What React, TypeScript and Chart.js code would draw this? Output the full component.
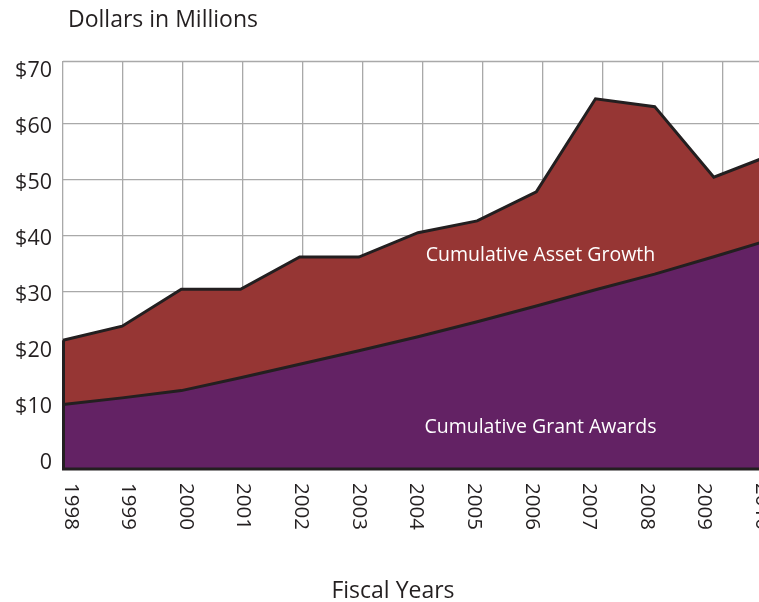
import { useEffect, useRef } from 'react';
import { Chart, registerables } from 'chart.js';

Chart.register(...registerables);

// ---- Data ----
const fiscalYears = ['1998', '1999', '2000', '2001', '2002', '2003', '2004', '2005', '2006', '2007', '2008', '2009', '2010'];
const cumulativeGrantAwards = [9.9, 11.1, 12.4, 14.7, 17.1, 19.5, 22.0, 24.7, 27.5, 30.4, 33.2, 36.3, 39.5];
const cumulativeTotal = [21.4, 23.9, 30.5, 30.5, 36.25, 36.25, 40.6, 42.7, 47.9, 64.5, 63.1, 50.5, 54.6];
const yTickValues = [0, 10, 20, 30, 40, 50, 60, 70];
const yTickLabels = ['0', '$10', '$20', '$30', '$40', '$50', '$60', '$70'];
const areaLabels = ['Cumulative Asset Growth', 'Cumulative Grant Awards'];
const areaLabelX = [8.07, 8.07];
const areaLabelY = [36.6, 5.9];
const yTitle = 'Dollars in Millions';
const xTitle = 'Fiscal Years';

const FONT = '"Open Sans", "Noto Sans", sans-serif';
const INK = '#231f20';
const RED = '#963634';
const PURPLE = '#632264';
const GRID = '#a9a9a9';

const overlayPlugin = {
  id: 'overlay',
  beforeDatasetsDraw(chart: any) {
    const { ctx, chartArea } = chart;
    ctx.save();
    ctx.strokeStyle = GRID;
    ctx.lineWidth = 1.3;
    ctx.beginPath();
    ctx.moveTo(chartArea.left, chartArea.top + 0.5);
    ctx.lineTo(chartArea.right, chartArea.top + 0.5);
    ctx.stroke();
    ctx.restore();
  },
  afterDatasetsDraw(chart: any) {
    const { ctx, chartArea, scales } = chart;
    const xs = scales.x;
    const ys = scales.y;
    const xl = scales.xl;
    ctx.save();
    // outline of filled region: left edge and baseline
    ctx.strokeStyle = INK;
    ctx.lineWidth = 3;
    ctx.lineJoin = 'miter';
    ctx.beginPath();
    ctx.moveTo(xs.getPixelForValue(0) + 0.5, ys.getPixelForValue(cumulativeTotal[0]));
    ctx.lineTo(xs.getPixelForValue(0) + 0.5, chartArea.bottom);
    ctx.lineTo(chartArea.right + 5, chartArea.bottom);
    ctx.stroke();

    // area labels
    ctx.fillStyle = '#ffffff';
    ctx.font = `19.5px ${FONT}`;
    ctx.textAlign = 'center';
    ctx.textBaseline = 'middle';
    areaLabels.forEach((t, i) => {
      ctx.fillText(t, xs.getPixelForValue(areaLabelX[i]), ys.getPixelForValue(areaLabelY[i]));
    });

    // x labels rotated clockwise
    ctx.fillStyle = INK;
    ctx.font = `20.5px ${FONT}`;
    ctx.textAlign = 'left';
    ctx.textBaseline = 'alphabetic';
    fiscalYears.forEach((t, i) => {
      const cx = xl.getPixelForValue(i);
      ctx.save();
      ctx.translate(cx, chartArea.bottom + 14);
      ctx.rotate(Math.PI / 2);
      ctx.fillText(t, 0, 7.3);
      ctx.restore();
    });

    // titles
    ctx.font = `23px ${FONT}`;
    ctx.textAlign = 'left';
    ctx.fillText(yTitle, 68, 27);
    ctx.textAlign = 'center';
    ctx.fillText(xTitle, 393, 598);
    ctx.restore();
  },
};

export default function App() {
  const canvasRef = useRef<HTMLCanvasElement | null>(null);

  useEffect(() => {
    const canvas = canvasRef.current;
    if (!canvas) return;
    const chart = new Chart(canvas, {
      type: 'line',
      data: {
        labels: fiscalYears,
        datasets: [
          {
            label: 'Cumulative Grant Awards',
            data: cumulativeGrantAwards,
            borderColor: INK,
            borderWidth: 3,
            backgroundColor: PURPLE,
            fill: 'start',
            pointRadius: 0,
            tension: 0,
          },
          {
            label: 'Cumulative Asset Growth',
            data: cumulativeTotal,
            borderColor: INK,
            borderWidth: 3,
            backgroundColor: RED,
            fill: '-1',
            pointRadius: 0,
            tension: 0,
          },
        ],
      },
      options: {
        responsive: false,
        animation: false,
        devicePixelRatio: 1,
        layout: { padding: { top: 61, bottom: 133, left: 0, right: 1 } },
        plugins: {
          legend: { display: false },
          tooltip: { enabled: false },
          title: { display: false },
        },
        scales: {
          x: {
            type: 'category',
            display: false,
            offset: false,
          },
          xg: {
            type: 'linear',
            position: 'bottom',
            min: 0,
            max: 11.833,
            display: true,
            ticks: { display: false, stepSize: 1, includeBounds: false },
            grid: { color: GRID, lineWidth: 1.3, drawTicks: false },
            border: { display: false },
          },
          xl: {
            type: 'linear',
            position: 'bottom',
            display: false,
            min: -0.156,
            max: 12.17,
          },
          y: {
            type: 'linear',
            min: -1.6,
            max: 71.25,
            afterFit: (scale: any) => {
              scale.width = 63;
            },
            ticks: {
              stepSize: 10,
              includeBounds: false,
              padding: 11,
              labelOffset: 3,
              color: INK,
              font: { family: FONT, size: 21.5 },
              callback: (v: any) => {
                const idx = yTickValues.indexOf(Number(v));
                return idx >= 0 ? yTickLabels[idx] : '';
              },
            },
            grid: {
              drawTicks: false,
              lineWidth: 1.3,
              color: (ctx: any) => (ctx.tick && ctx.tick.value === 70 ? 'rgba(0,0,0,0)' : GRID),
            },
            border: { display: false },
          },
        },
      } as any,
      plugins: [overlayPlugin],
    });
    return () => chart.destroy();
  }, []);

  return (
    <div style={{ position: 'absolute', left: 0, top: 0, width: 759, height: 602, overflow: 'hidden', background: '#fff' }}>
      <canvas ref={canvasRef} width={774} height={602} style={{ display: 'block', width: 774, height: 602 }} />
    </div>
  );
}
